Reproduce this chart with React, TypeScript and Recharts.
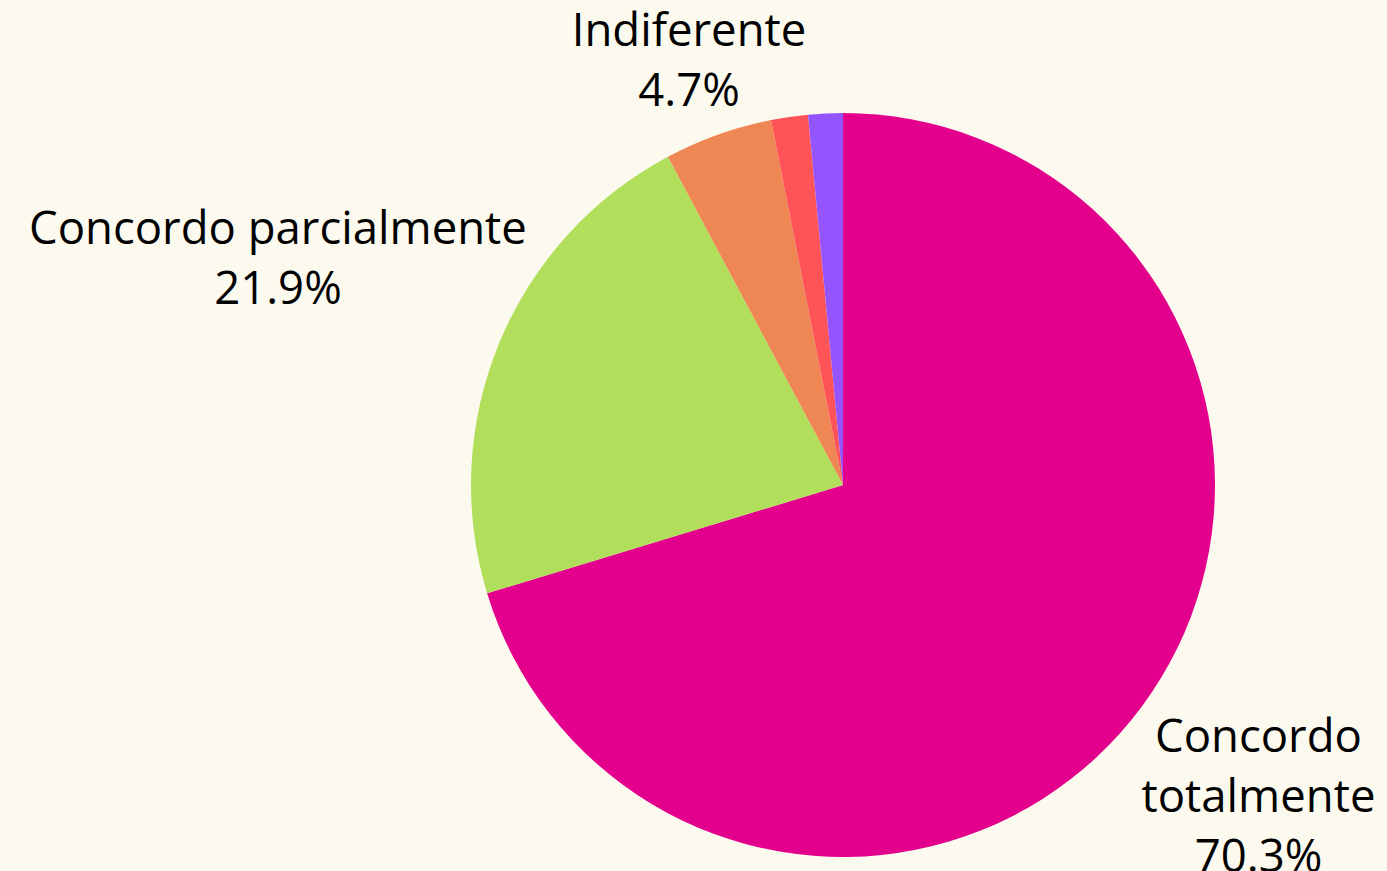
import React from "react"
import { PieChart, Pie, Cell } from "recharts"

const categories = ["Concordo totalmente", "Concordo parcialmente", "Indiferente", "Discordo parcialmente", "Discordo totalmente"]
const labelLines = [["Concordo", "totalmente"], ["Concordo parcialmente"], ["Indiferente"], ["Discordo parcialmente"], ["Discordo totalmente"]]
const shares = [70.3, 21.9, 4.7, 1.6, 1.5]
const colors = ["#E2008D", "#B2DF5B", "#EE8753", "#FF5457", "#9455FF"]

const BG = "#FCFAEF"
const FONT = "'Open Sans', 'Noto Sans', sans-serif"
const FS = 45.5
const LH = 60
const RADIAN = Math.PI / 180

const data = categories.map((name, i) => ({ name, value: shares[i], lines: labelLines[i] }))

let ctx: CanvasRenderingContext2D | null = null
function textWidth(s: string) {
  if (!ctx) ctx = document.createElement("canvas").getContext("2d")
  if (!ctx) return s.length * FS * 0.55
  ctx.font = `${FS}px ${FONT}`
  return ctx.measureText(s).width
}

// place each label box just outside the pie, along the slice's mid angle
function renderLabel(props: any) {
  const { cx, cy, midAngle, outerRadius, index } = props
  const d = data[index]
  if (d.value < 3) return null
  const lines = [...d.lines, `${d.value.toFixed(1)}%`]
  const w = Math.max(...lines.map(textWidth))
  const h = (lines.length - 1) * LH + 40
  const c = Math.cos(-midAngle * RADIAN)
  const s = Math.sin(-midAngle * RADIAN)
  const dist = outerRadius + Math.abs(c) * w * 0.95 / 2 + Math.abs(s) * h / 2 + 2
  const x = cx + c * dist + (lines.length > 2 ? 5 : 0)
  const y = cy + s * dist + 5
  return (
    <text x={x} y={y} textAnchor="middle" fill="#000" fontSize={FS} fontFamily={FONT}>
      {lines.map((t, i) => (
        <tspan key={i} x={x} y={y + (i - (lines.length - 1) / 2) * LH} dominantBaseline="central">
          {t}
        </tspan>
      ))}
    </text>
  )
}

export default function App() {
  return (
    <div style={{ position: "fixed", left: 0, top: 0, width: 1387, height: 871, background: BG }}>
      <PieChart width={1387} height={871} margin={{ top: 0, right: 0, bottom: 0, left: 0 }}>
        <Pie
          data={data}
          dataKey="value"
          nameKey="name"
          cx={843}
          cy={485}
          outerRadius={372}
          startAngle={90}
          endAngle={-270}
          stroke="none"
          label={renderLabel}
          labelLine={false}
          isAnimationActive={false}
        >
          {data.map((d, i) => (
            <Cell key={d.name} fill={colors[i]} />
          ))}
        </Pie>
      </PieChart>
    </div>
  )
}
